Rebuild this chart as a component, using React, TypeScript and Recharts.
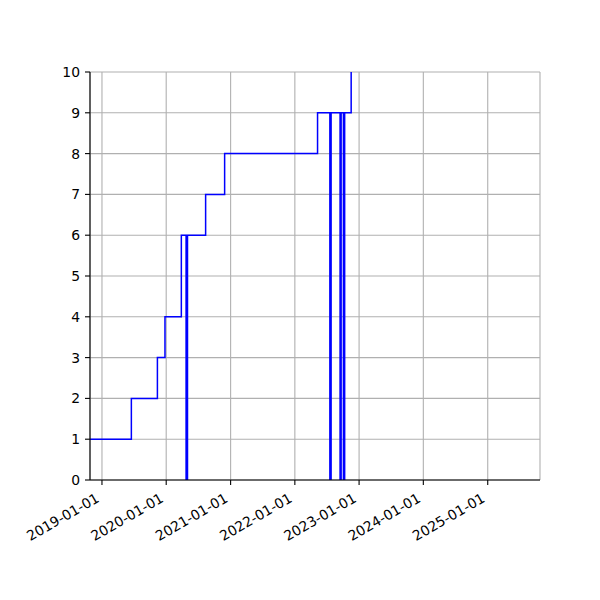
import React from "react";
import { LineChart, Line, XAxis, YAxis, CartesianGrid } from "recharts";

// dates where the count changes (step held until the next date)
const changeDates = [
  "2018-10-25", "2019-06-17", "2019-11-12", "2019-12-25", "2020-03-27",
  "2020-04-23", "2020-05-01", "2020-08-12", "2020-11-28", "2022-05-10",
  "2022-07-19", "2022-07-26", "2022-09-15", "2022-09-21", "2022-10-04",
  "2022-10-11", "2022-11-17", "2025-10-25"
];
const counts = [1, 2, 3, 4, 6, 0, 6, 7, 8, 9, 0, 9, 0, 9, 0, 9, 11, 11];

const xTickLabels = [
  "2019-01-01", "2020-01-01", "2021-01-01", "2022-01-01",
  "2023-01-01", "2024-01-01", "2025-01-01"
];
const yTicks = [0, 1, 2, 3, 4, 5, 6, 7, 8, 9, 10];
const xDomain = ["2018-10-25", "2025-10-25"];

const data = changeDates.map((d, i) => ({ t: Date.parse(d), v: counts[i] }));
const xTicks = xTickLabels.map((d) => Date.parse(d));

const FONT = "DejaVu Sans";

const DateTick = (props: any) => {
  const { x, y, payload } = props;
  const label = new Date(payload.value).toISOString().slice(0, 10);
  const px = x - 1.7;
  const py = y + 11;
  return (
    <text
      x={px}
      y={py}
      textAnchor="end"
      fontSize={13.9}
      fontFamily={FONT}
      fill="#000"
      transform={`rotate(-30, ${px}, ${py})`}
    >
      {label}
    </text>
  );
};

export default function App() {
  return (
    <div style={{ position: "absolute", left: 0, top: 0, background: "#fff" }}>
      <LineChart
        width={600}
        height={600}
        data={data}
        margin={{ top: 72, right: 60, bottom: 60, left: 50 }}
        style={{ fontFamily: FONT }}
      >
        <CartesianGrid stroke="#b0b0b0" strokeWidth={1.1} />
        <XAxis
          dataKey="t"
          type="number"
          domain={xDomain.map((d) => Date.parse(d))}
          allowDataOverflow
          ticks={xTicks}
          interval={0}
          height={60}
          tickSize={5}
          tickMargin={5}
          stroke="#000"
          tickLine={{ stroke: "#000", strokeWidth: 1.1 }}
          axisLine={{ stroke: "#000", strokeWidth: 1.1 }}
          tick={<DateTick />}
        />
        <XAxis
          xAxisId="top"
          orientation="top"
          dataKey="t"
          type="number"
          domain={xDomain.map((d) => Date.parse(d))}
          height={0}
          tick={false}
          tickLine={false}
          axisLine={{ stroke: "#000", strokeWidth: 1.1 }}
        />
        <YAxis
          type="number"
          domain={[0, 10]}
          allowDataOverflow
          ticks={yTicks}
          interval={0}
          width={40}
          tickSize={5}
          tickMargin={5}
          tickLine={{ stroke: "#000", strokeWidth: 1.1 }}
          axisLine={{ stroke: "#000", strokeWidth: 1.1 }}
          tick={{ fill: "#000", fontSize: 13.9, fontFamily: FONT }}
        />
        <YAxis
          yAxisId="right"
          orientation="right"
          type="number"
          domain={[0, 10]}
          width={0}
          tick={false}
          tickLine={false}
          axisLine={{ stroke: "#000", strokeWidth: 1.1 }}
        />
        <Line
          type="stepAfter"
          dataKey="v"
          stroke="#0000ff"
          strokeWidth={1.5}
          dot={false}
          activeDot={false}
          isAnimationActive={false}
        />
      </LineChart>
    </div>
  );
}
